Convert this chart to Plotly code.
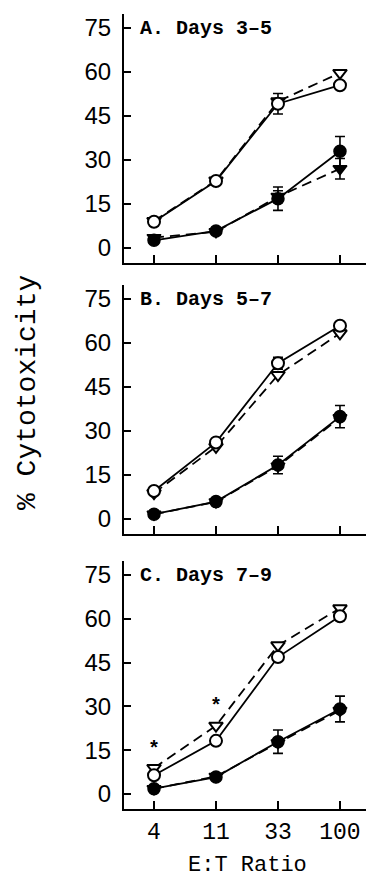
import plotly.graph_objects as go

ratios = ["4", "11", "33", "100"]
panel_titles = ["A. Days 3–5", "B. Days 5–7", "C. Days 7–9"]
y_ticks = [0, 15, 30, 45, 60, 75]

# Panel A
a_open_circle = [8.9, 22.8, 49.2, 55.5]
a_open_tri = [9.2, 23.0, 50.0, 59.7]
a_fill_circle = [2.6, 5.8, 16.8, 33.0]
a_fill_tri = [3.5, 5.5, 17.5, 27.0]
a_err_open_circle = [0, 0, 3.5, 0]
a_err_open_tri = [0, 0, 0, 0]
a_err_fill_circle = [0, 0, 4.0, 5.0]
a_err_fill_tri = [0, 0, 2.0, 3.5]

# Panel B
b_open_circle = [9.5, 26.1, 53.1, 65.9]
b_open_tri = [8.8, 24.6, 49.1, 63.3]
b_fill_circle = [1.6, 5.9, 18.4, 34.9]
b_fill_tri = [1.6, 5.8, 18.0, 34.5]
b_err_open_circle = [0, 0, 2.0, 0]
b_err_open_tri = [0, 0, 0, 0]
b_err_fill_circle = [0, 0, 3.0, 3.8]
b_err_fill_tri = [0, 0, 0, 0]

# Panel C
c_open_circle = [6.4, 18.2, 46.9, 60.9]
c_open_tri = [8.9, 23.4, 50.9, 63.6]
c_fill_circle = [1.8, 5.8, 17.9, 29.1]
c_fill_tri = [1.8, 6.0, 17.5, 28.6]
c_err_open_circle = [0, 0, 0, 1.5]
c_err_open_tri = [0, 0, 0, 0]
c_err_fill_circle = [0, 0, 4.0, 4.4]
c_err_fill_tri = [0, 0, 0, 0]
c_star_x = ["4", "11"]
c_star_y = [15.1, 29.9]

panels = [
    (a_open_circle, a_open_tri, a_fill_circle, a_fill_tri,
     a_err_open_circle, a_err_open_tri, a_err_fill_circle, a_err_fill_tri),
    (b_open_circle, b_open_tri, b_fill_circle, b_fill_tri,
     b_err_open_circle, b_err_open_tri, b_err_fill_circle, b_err_fill_tri),
    (c_open_circle, c_open_tri, c_fill_circle, c_fill_tri,
     c_err_open_circle, c_err_open_tri, c_err_fill_circle, c_err_fill_tri),
]

W, H = 366, 882
# pixel extents of each panel (top, bottom)
panel_px = [(14, 263), (285, 534), (561, 809)]
x_left_px = 124

fig = go.Figure()

MONO = "Liberation Mono"
SANS = "Liberation Sans"

def err(arr):
    return dict(type="data", array=arr, visible=True, color="black",
                thickness=1.6, width=5)

for i, p in enumerate(panels):
    oc, ot, fc, ft, eoc, eot, efc, eft = p
    xa = "x" if i == 0 else f"x{i+1}"
    ya = "y" if i == 0 else f"y{i+1}"
    common = dict(xaxis=xa, yaxis=ya, showlegend=False, mode="lines+markers")
    fig.add_trace(go.Scatter(x=ratios, y=ft, error_y=err(eft),
                             line=dict(color="black", width=1.8, dash="10px,6px"),
                             marker=dict(symbol="triangle-down", size=12, color="black",
                                         line=dict(color="black", width=1.5)), **common))
    fig.add_trace(go.Scatter(x=ratios, y=fc, error_y=err(efc),
                             line=dict(color="black", width=1.8),
                             marker=dict(symbol="circle", size=12, color="black",
                                         line=dict(color="black", width=1.5)), **common))
    fig.add_trace(go.Scatter(x=ratios, y=ot, error_y=err(eot),
                             line=dict(color="black", width=1.8, dash="10px,6px"),
                             marker=dict(symbol="triangle-down", size=12, color="white",
                                         line=dict(color="black", width=2)), **common))
    fig.add_trace(go.Scatter(x=ratios, y=oc, error_y=err(eoc),
                             line=dict(color="black", width=1.8),
                             marker=dict(symbol="circle", size=12, color="white",
                                         line=dict(color="black", width=2)), **common))

fig.add_trace(go.Scatter(x=c_star_x, y=c_star_y, mode="text", text=["*", "*"],
                         textfont=dict(family=MONO, size=20, color="black", weight="bold"),
                         xaxis="x3", yaxis="y3", showlegend=False))

layout = dict(width=W, height=H, autosize=False,
              margin=dict(l=0, r=0, t=0, b=0),
              paper_bgcolor="white", plot_bgcolor="white")

yr = [-5.15, 79.8]
for i, (top, bot) in enumerate(panel_px):
    dom = [1 - bot / H, 1 - top / H]
    xk = "xaxis" if i == 0 else f"xaxis{i+1}"
    yk = "yaxis" if i == 0 else f"yaxis{i+1}"
    yname = "y" if i == 0 else f"y{i+1}"
    xname = "x" if i == 0 else f"x{i+1}"
    layout[xk] = dict(domain=[x_left_px / W, 1], anchor=yname, type="category",
                      categoryorder="array", categoryarray=ratios,
                      range=[-0.484, 3.42], showline=True, linecolor="black", linewidth=2,
                      ticks="inside", ticklen=8, tickwidth=1.6, tickcolor="black",
                      showgrid=False, zeroline=False,
                      showticklabels=(i == 2),
                      tickfont=dict(family=MONO, size=23, color="black"))
    layout[yk] = dict(domain=dom, anchor=xname, range=yr, tickvals=y_ticks,
                      showline=True, linecolor="black", linewidth=2,
                      ticks="inside", ticklen=7, tickwidth=1.6, tickcolor="black",
                      showgrid=False, zeroline=False, ticklabelstandoff=6,
                      tickfont=dict(family=SANS, size=24, color="black"))

fig.update_layout(**layout)

annotations = []
for i, t in enumerate(panel_titles):
    yref = "y" if i == 0 else f"y{i+1}"
    annotations.append(dict(text=t, xref="paper", x=138 / W, xanchor="left",
                            yref=yref, y=75, yanchor="middle", showarrow=False,
                            font=dict(family=MONO, size=20, color="black", weight="bold")))
annotations.append(dict(text="% Cytotoxicity", xref="paper", yref="paper",
                        x=28 / W, y=1 - 393 / H, textangle=-90, showarrow=False,
                        xanchor="center", yanchor="middle",
                        font=dict(family=MONO, size=28, color="black")))
annotations.append(dict(text="E:T Ratio", xref="paper", yref="paper",
                        x=247 / W, y=1 - 879 / H, showarrow=False,
                        xanchor="center", yanchor="bottom", borderpad=0,
                        font=dict(family=MONO, size=22, color="black")))
fig.update_layout(annotations=annotations)

fig.write_html("out.html", config={"displayModeBar": False},
               post_script="document.body.style.margin='0';document.body.style.padding='0';"
                           "document.body.style.overflow='hidden';")
